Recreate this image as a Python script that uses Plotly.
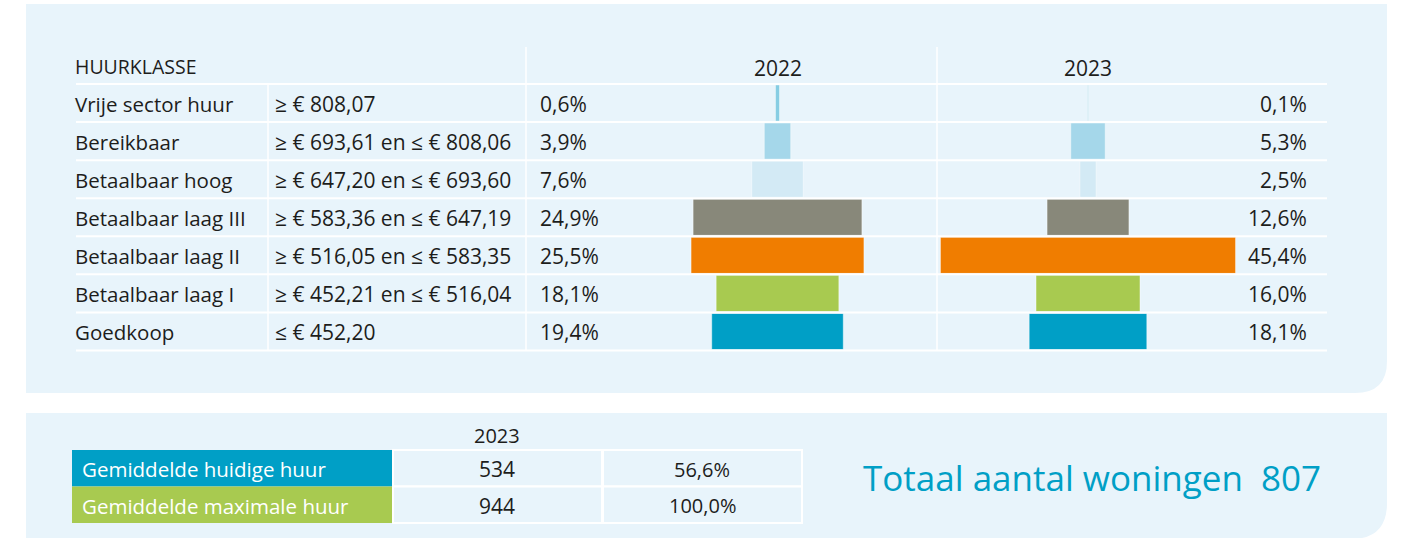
import plotly.graph_objects as go

# ---------------- data ----------------
categories = ["Vrije sector huur", "Bereikbaar", "Betaalbaar hoog", "Betaalbaar laag III",
              "Betaalbaar laag II", "Betaalbaar laag I", "Goedkoop"]
ranges = ["≥ € 808,07", "≥ € 693,61 en ≤ € 808,06", "≥ € 647,20 en ≤ € 693,60",
          "≥ € 583,36 en ≤ € 647,19", "≥ € 516,05 en ≤ € 583,35",
          "≥ € 452,21 en ≤ € 516,04", "≤ € 452,20"]
pct_2022 = [0.6, 3.9, 7.6, 24.9, 25.5, 18.1, 19.4]
pct_2023 = [0.1, 5.3, 2.5, 12.6, 45.4, 16.0, 18.1]
bar_colors = ["#86cde3", "#a5d7ea", "#d3eaf5", "#88887a", "#f07d00", "#a8ca50", "#009fc6"]
years = ["2022", "2023"]

summary_labels = ["Gemiddelde huidige huur", "Gemiddelde maximale huur"]
summary_values = [534, 944]
summary_pct = [56.6, 100.0]
summary_colors = ["#009fc6", "#a8ca50"]
summary_year = "2023"
total_label = "Totaal aantal woningen"
total_value = 807

# ---------------- geometry helpers ----------------
W, H = 1401, 538
def px(x):
    return x / W
def py(y):
    return 1 - y / H

FONT = "Open Sans"
TXT = "#1d1d1b"
PANEL = "#e8f4fb"
n = len(categories)
row_top, row_bot = 84, 350.5
row_h = (row_bot - row_top) / n

def fmt(v, d=1):
    return f"{v:.{d}f}".replace(".", ",")

fig = go.Figure()

rows = list(range(n))
fig.add_trace(go.Bar(
    y=rows, x=pct_2022, base=[-v / 2 for v in pct_2022], orientation="h",
    marker=dict(color=bar_colors, line=dict(color="rgba(255,255,255,0.45)", width=1)),
    width=0.95, xaxis="x", yaxis="y", showlegend=False, hoverinfo="skip"))
fig.add_trace(go.Bar(
    y=rows, x=pct_2023, base=[-v / 2 for v in pct_2023], orientation="h",
    marker=dict(color=bar_colors, line=dict(color="rgba(255,255,255,0.45)", width=1)),
    width=0.95, xaxis="x2", yaxis="y", showlegend=False, hoverinfo="skip"))

shapes = []
def panel_path(x0, y0, x1, y1, r):
    return (f"M {px(x0)} {py(y0)} L {px(x1)} {py(y0)} L {px(x1)} {py(y1 - r)} "
            f"Q {px(x1)} {py(y1)} {px(x1 - r)} {py(y1)} L {px(x0)} {py(y1)} Z")

shapes.append(dict(type="path", path=panel_path(26, 4, 1387, 393, 32), xref="paper", yref="paper",
                   fillcolor=PANEL, line=dict(width=0), layer="below"))
shapes.append(dict(type="path", path=panel_path(26, 413, 1387, 539, 36), xref="paper", yref="paper",
                   fillcolor=PANEL, line=dict(width=0), layer="below"))

for i in range(n + 1):
    y = row_top + i * row_h
    shapes.append(dict(type="line", xref="paper", yref="paper", x0=px(76), x1=px(1327),
                       y0=py(y), y1=py(y), line=dict(color="white", width=2), layer="above"))
shapes.append(dict(type="line", xref="paper", yref="paper", x0=px(268), x1=px(268),
                   y0=py(row_top), y1=py(row_bot), line=dict(color="white", width=1.5), layer="above"))
for xv in (526, 937):
    shapes.append(dict(type="line", xref="paper", yref="paper", x0=px(xv), x1=px(xv),
                       y0=py(47), y1=py(row_bot), line=dict(color="white", width=1.5), layer="above"))

cell_top = 450
cell_h = 36.5
for i, (lab, col) in enumerate(zip(summary_labels, summary_colors)):
    y0 = cell_top + i * cell_h
    y1 = y0 + cell_h
    shapes.append(dict(type="rect", xref="paper", yref="paper", x0=px(72), x1=px(392),
                       y0=py(y1), y1=py(y0), fillcolor=col, line=dict(width=0)))
    for (a, b) in ((393, 602), (603, 802)):
        shapes.append(dict(type="rect", xref="paper", yref="paper", x0=px(a), x1=px(b),
                           y0=py(y1), y1=py(y0), fillcolor=PANEL, line=dict(color="white", width=2)))

ann = []
def text(x, y, s, size=20, color=TXT, xanchor="left", family=FONT):
    ann.append(dict(x=x, y=y, xref="paper", yref="paper", text=s, showarrow=False,
                    xanchor=xanchor, yanchor="middle", borderpad=0,
                    font=dict(family=family, size=size, color=color)))

text(px(74), py(66), "HUURKLASSE", size=19.5)
text(px(777.5), py(68), years[0], size=21, xanchor="center")
text(px(1088), py(68), years[1], size=21, xanchor="center")
for i in range(n):
    cy = py(row_top + (i + 0.5) * row_h + 1)
    text(px(74), cy, categories[i], size=20.5)
    text(px(274), cy, ranges[i], size=21)
    text(px(539), cy, fmt(pct_2022[i]) + "%", size=21)
    text(px(1308), cy, fmt(pct_2023[i]) + "%", size=21, xanchor="right")

text(px(497), py(435), summary_year, size=20, xanchor="center")
for i in range(len(summary_labels)):
    cy = py(cell_top + (i + 0.5) * cell_h + 1)
    text(px(81), cy, summary_labels[i], size=20.5, color="white")
    text(px(497), cy, str(summary_values[i]), size=21, xanchor="center")
    text(px(702), cy, fmt(summary_pct[i]) + "%", size=20, xanchor="center")

text(px(1092), py(477), f"{total_label}&nbsp;&nbsp;{total_value}", size=35,
     color="#009fc6", xanchor="center")

r22 = 100 / 6.78
r23 = 150 / 6.5
fig.update_layout(
    width=W, height=H, autosize=False,
    margin=dict(l=0, r=0, t=0, b=0),
    paper_bgcolor="white", plot_bgcolor="rgba(0,0,0,0)",
    barmode="overlay",
    xaxis=dict(domain=[px(677.5), px(877.5)], range=[-r22, r22], visible=False, fixedrange=True),
    xaxis2=dict(domain=[px(938), px(1238)], range=[-r23, r23], visible=False, fixedrange=True),
    yaxis=dict(domain=[py(row_bot), py(row_top)], range=[n - 0.5, -0.5], visible=False, fixedrange=True),
    shapes=shapes, annotations=ann,
)

fig.write_html("out.html", config={"displayModeBar": False},
               post_script="document.body.style.margin='0';document.body.style.overflow='hidden';")
